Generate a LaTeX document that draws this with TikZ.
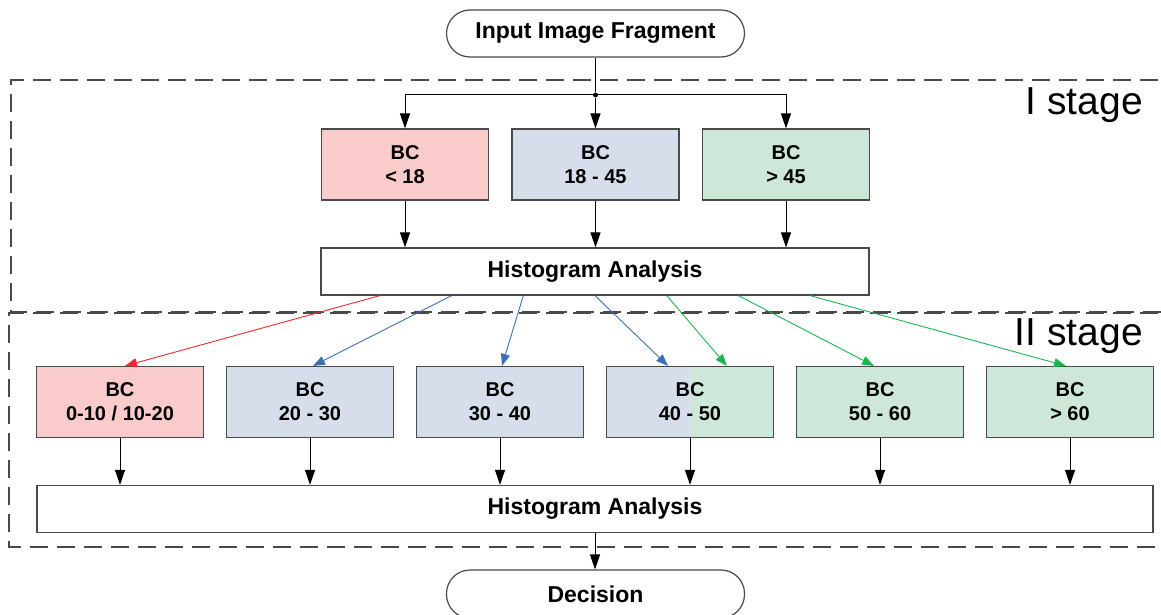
\documentclass[tikz,border=0pt]{standalone}
\usepackage{fontspec}
\setmainfont{Liberation Sans}
\usetikzlibrary{arrows.meta}

\definecolor{bcred}{HTML}{F9CBCB}
\definecolor{bcblue}{HTML}{D5DEEA}
\definecolor{bcgreen}{HTML}{CDE8D9}
\definecolor{arrred}{HTML}{EE2A2F}
\definecolor{arrblue}{HTML}{3D6FB6}
\definecolor{arrgreen}{HTML}{1CB550}
\definecolor{framegray}{HTML}{4A4A4A}

\tikzset{bcbox/.style={draw=framegray,line width=1.2pt,rectangle,minimum width=167pt,minimum height=71pt,inner sep=0pt,align=center,
		font=\fontsize{20}{24}\selectfont\bfseries}}
\tikzset{halves/.style 2 args={fill=#1,path picture={
			\fill[color=#2] (path picture bounding box.north) rectangle (path picture bounding box.south east);}}}
\tikzset{histbox/.style={draw=framegray,line width=1.2pt,fill=white,rectangle,minimum height=47pt,inner sep=0pt,
		font=\fontsize{23}{27}\selectfont\bfseries}}
\tikzset{terminal/.style={histbox,rounded corners=23.5pt,minimum width=298pt}}
\tikzset{stageframe/.style={draw=framegray,line width=1.4pt,dash pattern=on 18pt off 9pt}}
\tikzset{stagelabel/.style={font=\fontsize{39}{44}\selectfont,inner sep=0pt,anchor=base east}}
\tikzset{flow/.style={line width=1pt,-{Triangle[length=15pt,width=10pt]}}}
\tikzset{spread/.style={line width=0.9pt,-{Triangle[length=12pt,width=9pt]}}}

\begin{document}
\begin{tikzpicture}[x=1pt,y=-1pt]
	\useasboundingbox (0,0) rectangle (1161,615);
	\begin{scope}
		\draw[stageframe] (1185,80) -- (11,80) -- (11,312) -- (1185,312);
		\draw[stageframe] (1185,313) -- (9,313) -- (9,547) -- (1185,547);
		
		\node (stageI)[stagelabel]  at (1143,115) {I stage};
		\node (stageII)[stagelabel] at (1143,345) {II stage};
		
		\node (input)[terminal] at (595.5,33.5) {Input Image Fragment};
		\node (junc)[circle,fill=black,inner sep=0pt,minimum size=5pt] at (595.5,95) {};
		
		\foreach \nr/\txt/\col in {1/{< 18}/bcred, 2/{18 - 45}/bcblue, 3/{> 45}/bcgreen}{
			\node (a\nr)[bcbox,fill=\col] at ({405+(\nr-1)*190.5},164.5) {BC\\\txt};
		}
		\node (hist1)[histbox,minimum width=548pt] at (595,271.5) {Histogram Analysis};
		
		\draw[line width=1pt] (input) -- (junc);
		\draw[flow] (junc) -| (a1.north);
		\draw[flow] (junc) -| (a3.north);
		\draw[flow] (junc) -- (a2.north);
		\foreach \nr in {1,...,3}{
			\draw[flow] (a\nr.south) -- (a\nr.south |- hist1.north);
		}
		
		\foreach \nr/\txt/\lc/\rc in {1/{0-10 / 10-20}/bcred/bcred, 2/{20 - 30}/bcblue/bcblue, 3/{30 - 40}/bcblue/bcblue,
			4/{40 - 50}/bcblue/bcgreen, 5/{50 - 60}/bcgreen/bcgreen, 6/{> 60}/bcgreen/bcgreen}{
			\node (b\nr)[bcbox,halves={\lc}{\rc}] at ({120+(\nr-1)*190},402) {BC\\\txt};
		}
		\node (hist2)[histbox,minimum width=1116pt] at (595,509) {Histogram Analysis};
		\node (decision)[terminal,minimum height=48pt] at (595.5,594) {Decision};
		
		\foreach \k/\dest/\dx/\col in {-3/b1/5/arrred, -2/b2/3/arrblue, -1/b3/2/arrblue, 0/b4/-22/arrblue,
			1/b4/37/arrgreen, 2/b5/-6/arrgreen, 3/b6/-4/arrgreen}{
			\draw[spread,color=\col] ([xshift=\k*71.7pt]hist1.south) -- ([xshift=\dx pt]\dest.north);
		}
		\foreach \nr in {1,...,6}{
			\draw[flow] (b\nr.south) -- (b\nr.south |- hist2.north);
		}
		\draw[flow] (hist2.south) -- (hist2.south |- decision.north);
	\end{scope}
\end{tikzpicture}
\end{document}
